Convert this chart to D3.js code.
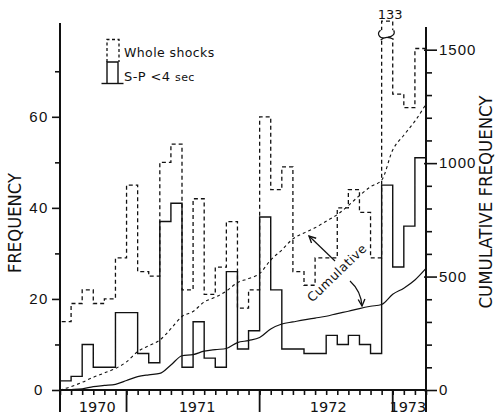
<!DOCTYPE html>
<html>
<head>
<meta charset="utf-8">
<script src="https://cdn.jsdelivr.net/npm/d3@7"></script>
<style>
  html, body { margin: 0; padding: 0; background: #fff; }
  svg { display: block; font-family: "DejaVu Sans", "Liberation Sans", sans-serif; }
</style>
</head>
<body>
<svg id="chart" width="495" height="418"></svg>
<script>
// Monthly counts, July 1970 – March 1973
const yearLabels = ["1970", "1971", "1972", "1973"];
const yearStartMonth = [0, 6, 18, 30];
const monthCount = 33;
const wholeShocks = [15, 19, 22, 19, 20, 29,
                     45, 26, 25, 50, 54, 22, 42, 21, 27, 37, 18, 22,
                     60, 44, 49, 26, 23, 29, 29, 40, 44, 39, 29, 133,
                     65, 62, 75];
const spUnder4 = [2, 3, 10, 5, 5, 17,
                  17, 8, 6, 37, 41, 5, 15, 7, 5, 26, 9, 13,
                  38, 22, 9, 9, 8, 8, 12, 10, 12, 10, 8, 45,
                  27, 36, 51];
const freqTicks = [0, 20, 40, 60];
const freqMinor = [10, 30, 50, 70];
const cumTicks = [0, 500, 1000, 1500];
const cumMinor = [100, 200, 300, 400, 600, 700, 800, 900, 1100, 1200, 1300, 1400];

const svg = d3.select("#chart");
const ink = "#111";

const x = d3.scaleLinear().domain([0, monthCount]).range([60, 426]);
const y = d3.scaleLinear().domain([0, 80.6]).range([390, 23]);
const y2 = d3.scaleLinear().domain([0, 1600]).range([390, 27]);
const capValue = 81; // bars taller than the frame are cut here and marked with a break

// ---- axes ----
const g = svg.append("g").attr("stroke", ink).attr("fill", "none");
// frame lines (extend below the baseline as the outer year ticks)
g.append("line").attr("x1", x(0)).attr("x2", x(0)).attr("y1", y(80.6)).attr("y2", 412).attr("stroke-width", 2);
g.append("line").attr("x1", x(monthCount)).attr("x2", x(monthCount)).attr("y1", y2(1600)).attr("y2", 412).attr("stroke-width", 2);
g.append("line").attr("x1", x(0)).attr("x2", x(monthCount)).attr("y1", y(0)).attr("y2", y(0)).attr("stroke-width", 2);

function styleAxis(sel) {
  sel.select(".domain").remove();
  sel.selectAll("line").attr("stroke", ink).attr("stroke-width", 1.6);
  sel.selectAll("text").attr("fill", ink);
}

// left axis
svg.append("g").attr("transform", `translate(${x(0)},0)`)
  .call(d3.axisLeft(y).tickValues(freqMinor).tickSize(5).tickFormat(""))
  .call(styleAxis);
const la = svg.append("g").attr("transform", `translate(${x(0)},0)`)
  .call(d3.axisLeft(y).tickValues(freqTicks).tickSize(8).tickPadding(0).tickFormat(d3.format("d")))
  .call(styleAxis);
la.selectAll("text").attr("x", -21).attr("text-anchor", "middle")
  .style("font-size", "15px").style("letter-spacing", "1.5px");

// right axis
svg.append("g").attr("transform", `translate(${x(monthCount)},0)`)
  .call(d3.axisRight(y2).tickValues(cumMinor).tickSize(6).tickFormat(""))
  .call(styleAxis);
const ra = svg.append("g").attr("transform", `translate(${x(monthCount)},0)`)
  .call(d3.axisRight(y2).tickValues(cumTicks).tickSize(11).tickPadding(2).tickFormat(d3.format("d")))
  .call(styleAxis);
ra.selectAll("line").attr("x1", -2);
ra.selectAll("text").style("font-size", "15px").style("letter-spacing", "1px");

// bottom axis: month ticks and year separators
svg.append("g").attr("transform", `translate(0,${y(0)})`)
  .call(d3.axisBottom(x).tickValues(d3.range(0, monthCount + 1)).tickSize(5).tickFormat(""))
  .call(styleAxis);
svg.append("g").selectAll("line").data(yearStartMonth).join("line")
  .attr("x1", d => x(d)).attr("x2", d => x(d)).attr("y1", y(0)).attr("y2", 412)
  .attr("stroke", ink).attr("stroke-width", 1.8);
const yearEnds = yearStartMonth.slice(1).concat([monthCount]);
svg.append("g").selectAll("text").data(yearLabels).join("text")
  .attr("x", (d, i) => (x(yearStartMonth[i]) + x(yearEnds[i])) / 2 + (i < 2 ? 4 : i === 2 ? 2 : -1.5))
  .attr("y", 412)
  .attr("text-anchor", "middle")
  .attr("fill", ink)
  .style("font-size", "14.5px")
  .text(d => d);

// axis titles
svg.append("text")
  .attr("transform", "translate(21,223) rotate(-90)")
  .attr("text-anchor", "middle").attr("fill", ink)
  .attr("textLength", 100).attr("lengthAdjust", "spacingAndGlyphs")
  .style("font-size", "17px")
  .text("FREQUENCY");
svg.append("text")
  .attr("transform", "translate(492,202) rotate(-90)")
  .attr("text-anchor", "middle").attr("fill", ink)
  .attr("textLength", 213).attr("lengthAdjust", "spacingAndGlyphs")
  .style("font-size", "17px")
  .text("CUMULATIVE FREQUENCY");

// ---- histograms (step outlines) ----
function stepPath(vals) {
  const p = d3.path();
  p.moveTo(x(0), y(0));
  vals.forEach((v, i) => {
    const yy = y(Math.min(v, capValue));
    p.lineTo(x(i), yy);
    p.lineTo(x(i + 1), yy);
  });
  p.lineTo(x(vals.length), y(0));
  return p.toString();
}
svg.append("path").attr("d", stepPath(wholeShocks))
  .attr("fill", "none").attr("stroke", ink).attr("stroke-width", 1.3)
  .attr("stroke-dasharray", "4,3");
svg.append("path").attr("d", stepPath(spUnder4))
  .attr("fill", "none").attr("stroke", ink).attr("stroke-width", 1.4);

// break mark and value label on the clipped bar
wholeShocks.forEach((v, i) => {
  if (v <= capValue) return;
  const x0 = x(i), x1 = x(i + 1), cx = (x0 + x1) / 2;
  const top = y(capValue);
  svg.append("rect").attr("x", x0 - 2).attr("y", top + 9).attr("width", x1 - x0 + 4).attr("height", 9).attr("fill", "#fff");
  svg.append("path")
    .attr("d", `M${x0 - 1},${top + 9} C${x0 - 5},${top + 12} ${x0 - 3},${top + 17} ${x0 + 3},${top + 17}`
      + ` M${x1 + 1},${top + 9} C${x1 + 3},${top + 13} ${x1 - 1},${top + 16} ${x1 - 5},${top + 16}`
      + ` M${x0 - 1},${top + 19} Q${cx - 2},${top + 14} ${x1 + 1},${top + 18}`)
    .attr("fill", "none").attr("stroke", ink).attr("stroke-width", 1.2);
  svg.append("text").attr("x", cx + 3).attr("y", top - 2)
    .attr("text-anchor", "middle").attr("fill", ink)
    .style("font-size", "13px").text(v);
});

// ---- cumulative curves ----
function cumPoints(vals) {
  const c = d3.cumsum(vals);
  return [[0, 0]].concat(Array.from(c, (v, i) => [i + 1, v]));
}
const cumLine = d3.line().x(d => x(d[0])).y(d => y2(d[1])).curve(d3.curveMonotoneX);
svg.append("path").attr("d", cumLine(cumPoints(wholeShocks)))
  .attr("fill", "none").attr("stroke", ink).attr("stroke-width", 1.1)
  .attr("stroke-dasharray", "3,3");
svg.append("path").attr("d", cumLine(cumPoints(spUnder4)))
  .attr("fill", "none").attr("stroke", ink).attr("stroke-width", 1.2);

// ---- "Cumulative" note with arrows ----
const defs = svg.append("defs");
defs.append("marker").attr("id", "arrow").attr("viewBox", "0 0 10 10")
  .attr("refX", 9).attr("refY", 5).attr("markerWidth", 7).attr("markerHeight", 7)
  .attr("orient", "auto")
  .append("path").attr("d", "M1,1 L9,5 L1,9").attr("fill", "none").attr("stroke", ink).attr("stroke-width", 1.6);
svg.append("text")
  .attr("transform", "translate(340,276) rotate(-44)")
  .attr("text-anchor", "middle").attr("fill", ink)
  .style("font-size", "12.5px").style("letter-spacing", "0.6px")
  .text("Cumulative");
svg.append("path").attr("d", "M335,261 L309,236")
  .attr("fill", "none").attr("stroke", ink).attr("stroke-width", 1.2).attr("marker-end", "url(#arrow)");
svg.append("path").attr("d", "M350,281 Q361,291 362,306")
  .attr("fill", "none").attr("stroke", ink).attr("stroke-width", 1.2).attr("marker-end", "url(#arrow)");

// ---- legend ----
const lg = svg.append("g").attr("fill", "none").attr("stroke", ink);
lg.append("path").attr("d", "M107,62 V39.5 H119 V62").attr("stroke-width", 1.3).attr("stroke-dasharray", "3,2.5");
lg.append("path").attr("d", "M107,83.5 V62 H118 V83.5").attr("stroke-width", 1.4);
lg.append("line").attr("x1", 101.5).attr("x2", 123.5).attr("y1", 83.5).attr("y2", 83.5).attr("stroke-width", 1.4);
svg.append("text").attr("x", 124).attr("y", 57).attr("fill", ink)
  .style("font-size", "12.5px").style("letter-spacing", "0.4px")
  .text("Whole shocks");
const t2 = svg.append("text").attr("x", 124).attr("y", 81).attr("fill", ink)
  .style("font-size", "13px").style("letter-spacing", "0.4px");
t2.append("tspan").text("S-P <4 ");
t2.append("tspan").style("font-size", "11px").text("sec");
</script>
</body>
</html>
